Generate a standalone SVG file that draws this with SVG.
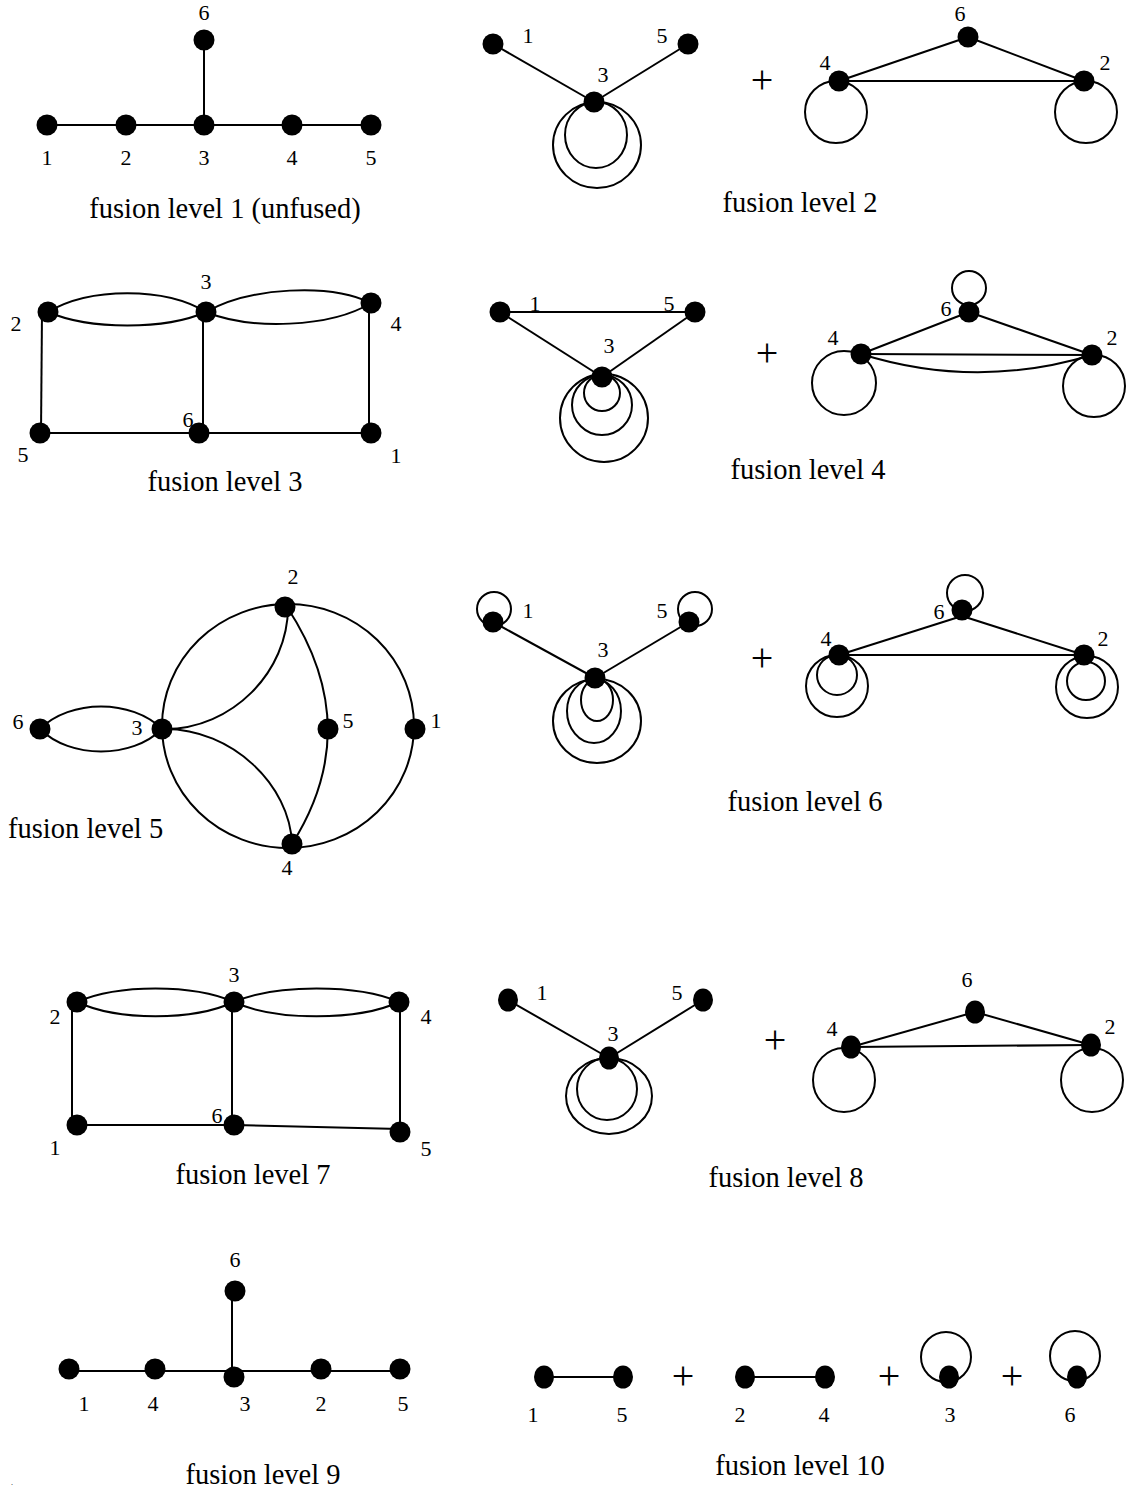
<svg xmlns="http://www.w3.org/2000/svg" width="1130" height="1492" viewBox="0 0 1130 1492">
<style>
.e{fill:none;stroke:#000;stroke-width:2}
.n{fill:#000}
.t{font-family:"Liberation Serif",serif;font-size:22px;fill:#000;text-anchor:middle}
.c{font-family:"Liberation Serif",serif;font-size:28.5px;fill:#000;text-anchor:middle}
.p{font-family:"Liberation Serif",serif;font-size:40px;fill:#000;text-anchor:middle}
</style>
<rect width="1130" height="1492" fill="#fff"/>

<!-- Level 1 -->
<g id="connectors-l1" class="e">
<line x1="47" y1="125" x2="371" y2="125"/>
<line x1="204" y1="40" x2="204" y2="125"/>
</g>
<g id="l1-n1"><circle class="n" cx="47" cy="125" r="10.5"/><text class="t" x="47" y="165">1</text></g>
<g id="l1-n2"><circle class="n" cx="126" cy="125" r="10.5"/><text class="t" x="126" y="165">2</text></g>
<g id="l1-n3"><circle class="n" cx="204" cy="125" r="10.5"/><text class="t" x="204" y="165">3</text></g>
<g id="l1-n4"><circle class="n" cx="292" cy="125" r="10.5"/><text class="t" x="292" y="165">4</text></g>
<g id="l1-n5"><circle class="n" cx="371" cy="125" r="10.5"/><text class="t" x="371" y="165">5</text></g>
<g id="l1-n6"><circle class="n" cx="204" cy="40" r="10.5"/><text class="t" x="204" y="20">6</text></g>
<text class="c" x="225" y="218">fusion level 1 (unfused)</text>

<!-- Level 2 -->
<g id="connectors-l2" class="e">
<line x1="493" y1="44" x2="594" y2="102"/>
<line x1="688" y1="44" x2="594" y2="102"/>
<ellipse cx="596" cy="135" rx="31" ry="33"/>
<ellipse cx="597" cy="145" rx="44" ry="43"/>
<line x1="839" y1="81" x2="968" y2="37"/>
<line x1="968" y1="37" x2="1084" y2="81"/>
<line x1="839" y1="81" x2="1084" y2="81"/>
<circle cx="836" cy="112" r="31"/>
<circle cx="1086" cy="112" r="31"/>
</g>
<g id="l2-n1"><circle class="n" cx="493" cy="44" r="10.5"/><text class="t" x="528" y="43">1</text></g>
<g id="l2-n5"><circle class="n" cx="688" cy="44" r="10.5"/><text class="t" x="662" y="43">5</text></g>
<g id="l2-n3"><circle class="n" cx="594" cy="102" r="10.5"/><text class="t" x="603" y="82">3</text></g>
<text class="p" x="762" y="93">+</text>
<g id="l2-n6"><circle class="n" cx="968" cy="37" r="10.5"/><text class="t" x="960" y="21">6</text></g>
<g id="l2-n4"><circle class="n" cx="839" cy="81" r="10.5"/><text class="t" x="825" y="70">4</text></g>
<g id="l2-n2"><circle class="n" cx="1084" cy="81" r="10.5"/><text class="t" x="1105" y="70">2</text></g>
<text class="c" x="800" y="212">fusion level 2</text>

<!-- Level 3 -->
<g id="connectors-l3" class="e">
<path d="M48,312 C90,287 165,287 206,312"/>
<path d="M48,312 C90,330 165,330 206,312"/>
<path d="M206,312 C250,287 330,283 371,303"/>
<path d="M206,312 C250,330 330,328 371,303"/>
<line x1="42" y1="312" x2="41" y2="433"/>
<line x1="203" y1="312" x2="203" y2="433"/>
<line x1="369" y1="303" x2="369" y2="433"/>
<line x1="40" y1="433" x2="371" y2="433"/>
</g>
<g id="l3-n2"><circle class="n" cx="48" cy="312" r="10.5"/><text class="t" x="16" y="331">2</text></g>
<g id="l3-n3"><circle class="n" cx="206" cy="312" r="10.5"/><text class="t" x="206" y="289">3</text></g>
<g id="l3-n4"><circle class="n" cx="371" cy="303" r="10.5"/><text class="t" x="396" y="331">4</text></g>
<g id="l3-n5"><circle class="n" cx="40" cy="433" r="10.5"/><text class="t" x="23" y="462">5</text></g>
<g id="l3-n6"><circle class="n" cx="199" cy="433" r="10.5"/><text class="t" x="188" y="427">6</text></g>
<g id="l3-n1"><circle class="n" cx="371" cy="433" r="10.5"/><text class="t" x="396" y="463">1</text></g>
<text class="c" x="225" y="491">fusion level 3</text>

<!-- Level 4 -->
<g id="connectors-l4" class="e">
<line x1="500" y1="312" x2="695" y2="312"/>
<line x1="500" y1="312" x2="602" y2="377"/>
<line x1="695" y1="312" x2="602" y2="377"/>
<circle cx="602" cy="393" r="18"/>
<circle cx="602" cy="405" r="30"/>
<circle cx="604" cy="418" r="44"/>
<line x1="861" y1="354" x2="969" y2="312"/>
<line x1="969" y1="312" x2="1092" y2="355"/>
<line x1="861" y1="354" x2="1092" y2="355"/>
<path d="M861,354 Q976,390 1092,355"/>
<circle cx="969" cy="288" r="17"/>
<circle cx="844" cy="383" r="32"/>
<circle cx="1094" cy="386" r="31"/>
</g>
<g id="l4-n1"><circle class="n" cx="500" cy="312" r="10.5"/><text class="t" x="535" y="311">1</text></g>
<g id="l4-n5"><circle class="n" cx="695" cy="312" r="10.5"/><text class="t" x="669" y="311">5</text></g>
<g id="l4-n3"><circle class="n" cx="602" cy="377" r="10.5"/><text class="t" x="609" y="353">3</text></g>
<text class="p" x="767" y="366">+</text>
<g id="l4-n6"><circle class="n" cx="969" cy="312" r="10.5"/><text class="t" x="946" y="316">6</text></g>
<g id="l4-n4"><circle class="n" cx="861" cy="354" r="10.5"/><text class="t" x="833" y="345">4</text></g>
<g id="l4-n2"><circle class="n" cx="1092" cy="355" r="10.5"/><text class="t" x="1112" y="345">2</text></g>
<text class="c" x="808" y="479">fusion level 4</text>

<!-- Level 5 -->
<g id="connectors-l5" class="e">
<ellipse cx="288" cy="726" rx="126" ry="122"/>
<path d="M40,729 C70,699 132,699 162,729"/>
<path d="M40,729 C70,759 132,759 162,729"/>
<path d="M165,729 C232,729 288,672 288,607"/>
<path d="M165,729 C232,729 290,785 292,844"/>
<path d="M287,607 Q366,727 292,844"/>
</g>
<g id="l5-n2"><circle class="n" cx="285" cy="607" r="10.5"/><text class="t" x="293" y="584">2</text></g>
<g id="l5-n6"><circle class="n" cx="40" cy="729" r="10.5"/><text class="t" x="18" y="729">6</text></g>
<g id="l5-n3"><circle class="n" cx="162" cy="729" r="10.5"/><text class="t" x="137" y="735">3</text></g>
<g id="l5-n5"><circle class="n" cx="328" cy="729" r="10.5"/><text class="t" x="348" y="728">5</text></g>
<g id="l5-n1"><circle class="n" cx="415" cy="729" r="10.5"/><text class="t" x="436" y="728">1</text></g>
<g id="l5-n4"><circle class="n" cx="292" cy="844" r="10.5"/><text class="t" x="287" y="875">4</text></g>
<text class="c" x="8" y="838" style="text-anchor:start">fusion level 5</text>

<!-- Level 6 -->
<g id="connectors-l6" class="e">
<line x1="493" y1="622" x2="595" y2="678"/>
<line x1="689" y1="622" x2="595" y2="678"/>
<circle cx="494" cy="609" r="17"/>
<circle cx="695" cy="609" r="17"/>
<ellipse cx="597" cy="700" rx="16" ry="21"/>
<ellipse cx="594" cy="711" rx="27" ry="32"/>
<ellipse cx="597" cy="721" rx="44" ry="42"/>
<line x1="839" y1="655" x2="962" y2="616"/>
<line x1="962" y1="616" x2="1084" y2="655"/>
<line x1="839" y1="655" x2="1084" y2="655"/>
<circle cx="965" cy="593" r="18"/>
<circle cx="837" cy="675" r="20"/>
<circle cx="837" cy="686" r="31"/>
<circle cx="1086" cy="681" r="19"/>
<circle cx="1087" cy="687" r="31"/>
</g>
<g id="l6-n1"><circle class="n" cx="493" cy="622" r="10.5"/><text class="t" x="528" y="618">1</text></g>
<g id="l6-n5"><circle class="n" cx="689" cy="622" r="10.5"/><text class="t" x="662" y="618">5</text></g>
<g id="l6-n3"><circle class="n" cx="595" cy="678" r="10.5"/><text class="t" x="603" y="657">3</text></g>
<text class="p" x="762" y="671">+</text>
<g id="l6-n6"><circle class="n" cx="962" cy="610" r="10.5"/><text class="t" x="939" y="619">6</text></g>
<g id="l6-n4"><circle class="n" cx="839" cy="655" r="10.5"/><text class="t" x="826" y="646">4</text></g>
<g id="l6-n2"><circle class="n" cx="1084" cy="655" r="10.5"/><text class="t" x="1103" y="646">2</text></g>
<text class="c" x="805" y="811">fusion level 6</text>

<!-- Level 7 -->
<g id="connectors-l7" class="e">
<path d="M77,1002 C118,984 193,984 234,1002"/>
<path d="M77,1002 C118,1021 193,1021 234,1002"/>
<path d="M234,1002 C275,984 358,984 399,1002"/>
<path d="M234,1002 C275,1021 358,1021 399,1002"/>
<line x1="72" y1="1002" x2="72" y2="1125"/>
<line x1="232" y1="1002" x2="232" y2="1125"/>
<line x1="400" y1="1002" x2="400" y2="1132"/>
<line x1="77" y1="1125" x2="234" y2="1125"/>
<line x1="234" y1="1125" x2="400" y2="1129"/>
</g>
<g id="l7-n2"><circle class="n" cx="77" cy="1002" r="10.5"/><text class="t" x="55" y="1024">2</text></g>
<g id="l7-n3"><circle class="n" cx="234" cy="1002" r="10.5"/><text class="t" x="234" y="982">3</text></g>
<g id="l7-n4"><circle class="n" cx="399" cy="1002" r="10.5"/><text class="t" x="426" y="1024">4</text></g>
<g id="l7-n1"><circle class="n" cx="77" cy="1125" r="10.5"/><text class="t" x="55" y="1155">1</text></g>
<g id="l7-n6"><circle class="n" cx="234" cy="1125" r="10.5"/><text class="t" x="217" y="1123">6</text></g>
<g id="l7-n5"><circle class="n" cx="400" cy="1132" r="10.5"/><text class="t" x="426" y="1156">5</text></g>
<text class="c" x="253" y="1184">fusion level 7</text>

<!-- Level 8 -->
<g id="connectors-l8" class="e">
<line x1="508" y1="1000" x2="609" y2="1058"/>
<line x1="703" y1="1000" x2="609" y2="1058"/>
<ellipse cx="607" cy="1089" rx="30" ry="31"/>
<ellipse cx="609" cy="1096" rx="43" ry="38"/>
<line x1="851" y1="1047" x2="975" y2="1012"/>
<line x1="975" y1="1012" x2="1091" y2="1045"/>
<line x1="851" y1="1047" x2="1091" y2="1045"/>
<ellipse cx="844" cy="1080" rx="31" ry="32"/>
<ellipse cx="1092" cy="1080" rx="31" ry="32"/>
</g>
<g id="l8-n1"><ellipse class="n" cx="508" cy="1000" rx="10" ry="11.5"/><text class="t" x="542" y="1000">1</text></g>
<g id="l8-n5"><ellipse class="n" cx="703" cy="1000" rx="10" ry="11.5"/><text class="t" x="677" y="1000">5</text></g>
<g id="l8-n3"><ellipse class="n" cx="609" cy="1058" rx="10" ry="11.5"/><text class="t" x="613" y="1041">3</text></g>
<text class="p" x="775" y="1053">+</text>
<g id="l8-n6"><ellipse class="n" cx="975" cy="1012" rx="10" ry="11.5"/><text class="t" x="967" y="987">6</text></g>
<g id="l8-n4"><ellipse class="n" cx="851" cy="1047" rx="10" ry="11.5"/><text class="t" x="832" y="1036">4</text></g>
<g id="l8-n2"><ellipse class="n" cx="1091" cy="1045" rx="10" ry="11.5"/><text class="t" x="1110" y="1034">2</text></g>
<text class="c" x="786" y="1187">fusion level 8</text>

<!-- Level 9 -->
<g id="connectors-l9" class="e">
<line x1="69" y1="1371" x2="400" y2="1371"/>
<line x1="232" y1="1291" x2="232" y2="1377"/>
</g>
<g id="l9-n6"><circle class="n" cx="235" cy="1291" r="10.5"/><text class="t" x="235" y="1267">6</text></g>
<g id="l9-n1"><circle class="n" cx="69" cy="1369" r="10.5"/><text class="t" x="84" y="1411">1</text></g>
<g id="l9-n4"><circle class="n" cx="155" cy="1369" r="10.5"/><text class="t" x="153" y="1411">4</text></g>
<g id="l9-n3"><circle class="n" cx="234" cy="1377" r="10.5"/><text class="t" x="245" y="1411">3</text></g>
<g id="l9-n2"><circle class="n" cx="321" cy="1369" r="10.5"/><text class="t" x="321" y="1411">2</text></g>
<g id="l9-n5"><circle class="n" cx="400" cy="1369" r="10.5"/><text class="t" x="403" y="1411">5</text></g>
<text class="c" x="263" y="1484">fusion level 9</text>
<text x="11" y="1485" style="font-family:'Liberation Serif',serif;font-size:8px">.</text>

<!-- Level 10 -->
<g id="connectors-l10" class="e">
<line x1="544" y1="1377" x2="623" y2="1377"/>
<line x1="745" y1="1377" x2="825" y2="1377"/>
<circle cx="946" cy="1357" r="25"/>
<circle cx="1075" cy="1356" r="25"/>
</g>
<g id="l10-n1"><ellipse class="n" cx="544" cy="1377" rx="10" ry="11.5"/><text class="t" x="533" y="1422">1</text></g>
<g id="l10-n5"><ellipse class="n" cx="623" cy="1377" rx="10" ry="11.5"/><text class="t" x="622" y="1422">5</text></g>
<text class="p" x="683" y="1389">+</text>
<g id="l10-n2"><ellipse class="n" cx="745" cy="1377" rx="10" ry="11.5"/><text class="t" x="740" y="1422">2</text></g>
<g id="l10-n4"><ellipse class="n" cx="825" cy="1377" rx="10" ry="11.5"/><text class="t" x="824" y="1422">4</text></g>
<text class="p" x="889" y="1389">+</text>
<g id="l10-n3"><ellipse class="n" cx="949" cy="1377" rx="10" ry="11.5"/><text class="t" x="950" y="1422">3</text></g>
<text class="p" x="1012" y="1389">+</text>
<g id="l10-n6"><ellipse class="n" cx="1077" cy="1377" rx="10" ry="11.5"/><text class="t" x="1070" y="1422">6</text></g>
<text class="c" x="800" y="1475">fusion level 10</text>
</svg>
